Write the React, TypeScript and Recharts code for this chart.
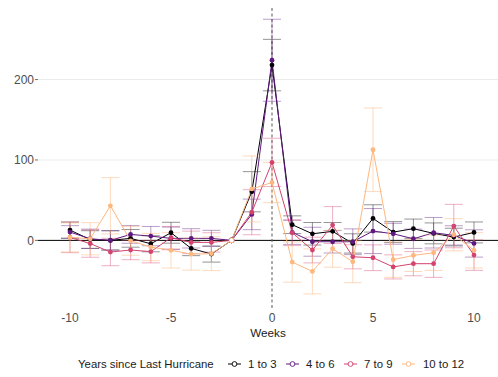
import React from "react";
import {
  ComposedChart,
  Line,
  XAxis,
  YAxis,
  CartesianGrid,
  ReferenceLine,
  ErrorBar,
  Label,
} from "recharts";

const weeks = [-10, -9, -8, -7, -6, -5, -4, -3, -2, -1, 0, 1, 2, 3, 4, 5, 6, 7, 8, 9, 10];

const seriesNames = ["1 to 3", "4 to 6", "7 to 9", "10 to 12"];

const y1to3 = [12.8, 1, 0, 2.5, -4.2, 9.5, -10, -17, 0, 60.5, 218, 19.5, 8.2, 11.2, -3.8, 27.3, 10.3, 14.5, 8.7, 4.1, 9.9];
const y4to6 = [10.3, 2, 0, 7.4, 5.3, 2.5, 2.5, 2.5, 0, 32.3, 224, 10, -1.7, -1.7, -1.7, 11.6, 8.2, 2, 9.5, 6.2, -3.8];
const y7to9 = [3.7, -4, -14.5, -12, -14, 3.3, -2.5, -2.5, 0, 35, 97, 9.5, -12, 19, -20.4, -21.6, -33, -29, -29, 17.8, -18.3];
const y10to12 = [3.7, 2, 43, -0.5, -8.3, -12.4, -17, -16.6, 0, 64, 72, -27, -38.6, -10.4, -26.6, 112.7, -24, -18.7, -15.4, 7, -12.4];

const e1to3 = [10, 11, 12, 11, 10, 13, 9, 10, 0, 25, 32, 11, 14, 11, 12, 17, 13, 12, 13, 11, 13];
const e4to6 = [8, 12, 12, 11, 12, 14, 12, 10, 0, 19, 51, 15, 18, 14, 16, 28, 13, 12, 19, 12, 17];
const e7to9 = [19, 17, 17, 12, 14, 14, 14, 12, 0, 28, 30, 16, 16, 23, 15, 16, 15, 15, 17, 27, 19];
const e10to12 = [18, 20, 35, 18, 17, 22, 20, 21, 0, 41, 25, 25, 28, 23, 26, 52, 22, 20, 22, 20, 22];

const xTicks = [-10, -5, 0, 5, 10];
const yTicks = [0, 100, 200];
const gridValues = [100, 200];

const colors = ["#000004", "#5F187F", "#D3436E", "#FEB77E"];
const errColors = [
  "rgba(0,0,4,0.42)",
  "rgba(95,24,127,0.42)",
  "rgba(211,67,110,0.42)",
  "rgba(254,183,126,0.5)",
];

const data = weeks.map((w, i) => ({
  week: w,
  s1: y1to3[i],
  s2: y4to6[i],
  s3: y7to9[i],
  s4: y10to12[i],
  e1: e1to3[i],
  e2: e4to6[i],
  e3: e7to9[i],
  e4: e10to12[i],
}));

const FONT = "'Liberation Sans', Arial, sans-serif";

const makeDot = (color: string) => (props: any) => {
  const { cx, cy, payload, index } = props;
  if (cx == null || cy == null) return <g key={`d-${index}`} />;
  const hollow = payload && payload.week === -2;
  return (
    <circle
      key={`d-${index}`}
      cx={cx}
      cy={cy}
      r={2.4}
      fill={hollow ? "#ffffff" : color}
      stroke={color}
      strokeWidth={hollow ? 0.9 : 0}
    />
  );
};

const LegendKey = ({ left, color }: { left: number; color: string }) => (
  <svg
    width={14}
    height={10}
    style={{ position: "absolute", left, top: 359 }}
  >
    <line x1={0} y1={5} x2={13} y2={5} stroke={color} strokeWidth={1} />
    <circle cx={6.5} cy={5} r={2.4} fill="#ffffff" stroke={color} strokeWidth={0.9} />
  </svg>
);

const LegendText = ({ left, text }: { left: number; text: string }) => (
  <div
    style={{
      position: "absolute",
      left,
      top: 356,
      fontFamily: FONT,
      fontSize: 11.4,
      lineHeight: "16px",
      color: "#1a1a1a",
      whiteSpace: "nowrap",
    }}
  >
    {text}
  </div>
);

export default function App() {
  const keys = ["s1", "s2", "s3", "s4"];
  const errKeys = ["e1", "e2", "e3", "e4"];
  return (
    <div style={{ position: "absolute", left: 0, top: 0, width: 498, height: 377, background: "#ffffff" }}>
      <ComposedChart
        width={498}
        height={377}
        data={data}
        margin={{ top: 5.5, right: 0, left: 0, bottom: 39 }}
      >
        <CartesianGrid
          horizontal={true}
          vertical={false}
          horizontalValues={gridValues}
          stroke="#EBEBEB"
          strokeWidth={1.1}
        />
        <XAxis
          dataKey="week"
          type="number"
          domain={[-11.584, 11.188]}
          ticks={xTicks}
          allowDataOverflow
          axisLine={false}
          tickLine={false}
          tickSize={0}
          tickMargin={5.5}
          height={30}
          tick={{ fill: "#4D4D4D", fontSize: 12, fontFamily: FONT }}
        >
          <Label
            value="Weeks"
            position="insideBottom"
            offset={1}
            style={{ fill: "#1a1a1a", fontSize: 11.7, fontFamily: FONT }}
          />
        </XAxis>
        <YAxis
          type="number"
          domain={[-84.1, 292.1]}
          ticks={yTicks}
          allowDataOverflow
          width={38}
          axisLine={false}
          tickLine={{ stroke: "#4D4D4D", strokeWidth: 0.8 }}
          tickSize={3}
          tickMargin={1}
          tick={{ fill: "#4D4D4D", fontSize: 12, fontFamily: FONT }}
        />
        <ReferenceLine y={0} stroke="#000000" strokeWidth={1} />
        <ReferenceLine x={0} stroke="#666666" strokeWidth={1.1} strokeDasharray="3 2.5" />
        {keys.map((k, i) => (
          <Line
            key={k}
            dataKey={k}
            name={seriesNames[i]}
            type="linear"
            stroke={colors[i]}
            strokeWidth={1}
            dot={makeDot(colors[i])}
            activeDot={false}
            isAnimationActive={false}
          >
            <ErrorBar
              dataKey={errKeys[i]}
              width={9}
              stroke={errColors[i]}
              strokeWidth={1}
              direction="y"
              isAnimationActive={false}
            />
          </Line>
        ))}
      </ComposedChart>
      <div
        style={{
          position: "absolute",
          left: 78,
          top: 356,
          fontFamily: FONT,
          fontSize: 11.4,
          lineHeight: "16px",
          color: "#1a1a1a",
          whiteSpace: "nowrap",
        }}
      >
        Years since Last Hurricane
      </div>
      <LegendKey left={227.5} color={colors[0]} />
      <LegendText left={248} text={seriesNames[0]} />
      <LegendKey left={285.5} color={colors[1]} />
      <LegendText left={306} text={seriesNames[1]} />
      <LegendKey left={343.5} color={colors[2]} />
      <LegendText left={364} text={seriesNames[2]} />
      <LegendKey left={401.5} color={colors[3]} />
      <LegendText left={423} text={seriesNames[3]} />
    </div>
  );
}
